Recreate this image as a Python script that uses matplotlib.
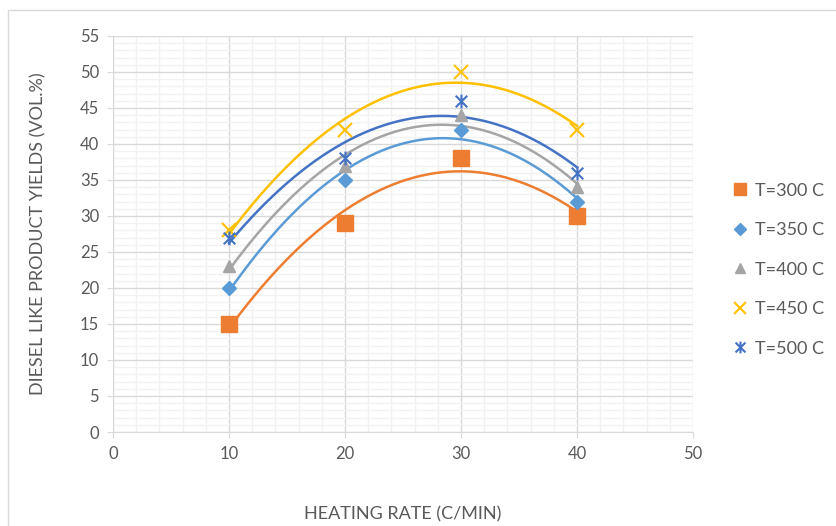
import numpy as np
import matplotlib.pyplot as plt
from matplotlib.path import Path
from matplotlib.patches import Rectangle

plt.rcParams['font.family'] = ['Lato', 'DejaVu Sans']

rate = [10, 20, 30, 40]
labels = ['T=300 C', 'T=350 C', 'T=400 C', 'T=450 C', 'T=500 C']
y300 = [15, 29, 38, 30]
y350 = [20, 35, 42, 32]
y400 = [23, 37, 44, 34]
y450 = [28, 42, 50, 42]
y500 = [27, 38, 46, 36]
series = [y300, y350, y400, y450, y500]

colors = ['#ED7D31', '#5B9BD5', '#A5A5A5', '#FFC000', '#4472C4']

# excel style star marker: x with vertical bar
star = Path([(-1, -1), (1, 1), (-1, 1), (1, -1), (0, -1.2), (0, 1.2)],
            [Path.MOVETO, Path.LINETO, Path.MOVETO, Path.LINETO, Path.MOVETO, Path.LINETO])
markers = ['s', 'D', '^', 'x', star]
sizes = [11, 7.5, 9, 10, 10]

fig = plt.figure(figsize=(8.37, 5.26), dpi=100)
fig.patches.append(Rectangle((8 / 837, -0.01), 1.0, 1 - 10 / 526 + 0.01, transform=fig.transFigure,
                             fill=False, edgecolor='#D9D9D9', linewidth=1))
ax = fig.add_axes([0.135, 0.1787, 0.693, 0.753])

xs = np.linspace(10, 40, 200)
for ys, c, m, s, lab in zip(series, colors, markers, sizes, labels):
    coef = np.polyfit(rate, ys, 2)  # polynomial trendline order 2
    ax.plot(xs, np.polyval(coef, xs), color=c, linewidth=1.8, zorder=2)
    if m == 'x' or isinstance(m, Path):
        ax.plot(rate, ys, linestyle='none', marker=m, markersize=s, color=c,
                markerfacecolor='none', markeredgewidth=1.5, label=lab, zorder=3)
    else:
        ax.plot(rate, ys, linestyle='none', marker=m, markersize=s, color=c,
                markeredgecolor=c, label=lab, zorder=3)

ax.set_xlim(0, 50)
ax.set_ylim(0, 55)
ax.set_xticks(range(0, 51, 10))
ax.set_yticks(range(0, 56, 5))
ax.set_xticks(np.arange(0, 51, 2), minor=True)
ax.set_yticks(np.arange(0, 56, 1), minor=True)
ax.grid(which='minor', color='#F2F2F2', linewidth=1, zorder=0)
ax.grid(which='major', color='#D9D9D9', linewidth=1, zorder=0)
ax.set_axisbelow(True)

for sp in ['top', 'right']:
    ax.spines[sp].set_visible(False)
for sp in ['left', 'bottom']:
    ax.spines[sp].set_color('#D9D9D9')
ax.tick_params(which='major', length=4, color='#D9D9D9', labelcolor='#595959', labelsize=12, pad=6)
ax.tick_params(which='minor', length=0)

ax.set_xlabel('HEATING RATE (C/MIN)', fontsize=13, color='#595959', labelpad=32)
ax.set_ylabel('DIESEL LIKE PRODUCT YIELDS (VOL.%)', fontsize=13, color='#595959', labelpad=24)

ax.legend(loc='center left', bbox_to_anchor=(1.035, 0.41), frameon=False, fontsize=13,
          labelcolor='#595959', handletextpad=0.3, labelspacing=1.3, markerscale=0.85,
          handlelength=1.1)

plt.savefig('out.png', dpi=100)
